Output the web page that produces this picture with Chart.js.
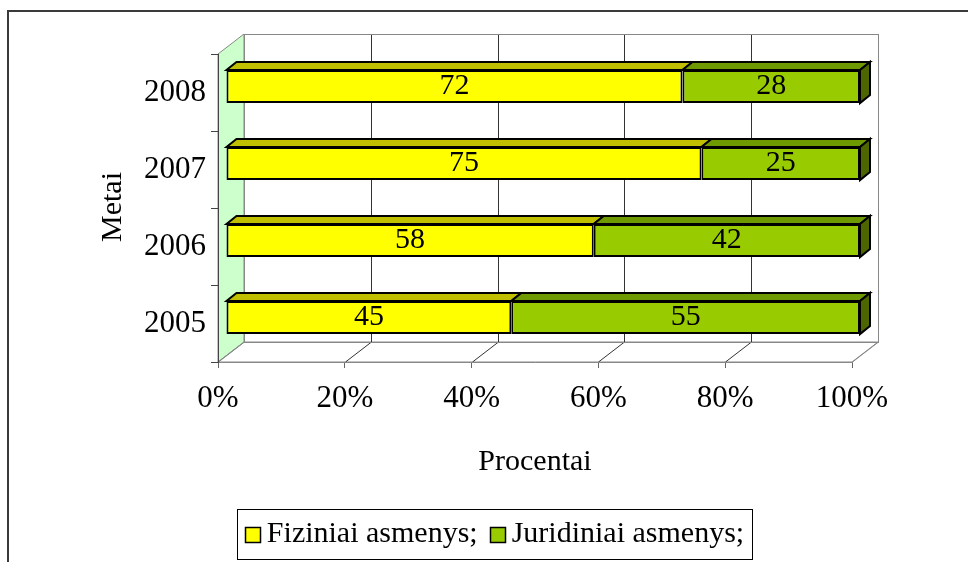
<!DOCTYPE html>
<html>
<head>
<meta charset="utf-8">
<script src="https://cdn.jsdelivr.net/npm/chart.js@4/dist/chart.umd.min.js"></script>
<style>
  html, body { margin: 0; padding: 0; background: #fff; overflow: hidden; }
  canvas { display: block; }
</style>
</head>
<body>
<canvas id="c" width="968" height="562"></canvas>
<script>
// Data
const years = ['2005', '2006', '2007', '2008'];
const fiziniai = [45, 58, 75, 72];
const juridiniai = [55, 42, 25, 28];
const seriesNames = ['Fiziniai asmenys;', 'Juridiniai asmenys;'];
const percentTicks = [0, 20, 40, 60, 80, 100];
const tickLabels = ['0%', '20%', '40%', '60%', '80%', '100%'];
const xTitle = 'Procentai';
const yTitle = 'Metai';

// Look
const SERIF = "'Liberation Serif', 'Times New Roman', Times, serif";
const WALL = { x: 26, y: -20 };      // depth of the back wall
const BAR_SHIFT = { x: 8, y: -6 };   // bars sit a little inside the box
const BAR_DEPTH = { x: 10, y: -8 };  // thickness of each 3D bar
const faceColors = [
  { front: '#FFFF00', top: '#C0C000', side: '#9A9A00' },
  { front: '#99CC00', top: '#6F9900', side: '#4D6600' }
];

function poly(ctx, pts) {
  ctx.beginPath();
  ctx.moveTo(pts[0][0], pts[0][1]);
  for (let i = 1; i < pts.length; i++) ctx.lineTo(pts[i][0], pts[i][1]);
  ctx.closePath();
}

// Outer frame, back wall, side wall and floor of the 3D box
const box3d = {
  id: 'box3d',
  beforeDraw(chart) {
    const { ctx, chartArea: a, scales: { x } } = chart;
    const dx = WALL.x, dy = WALL.y;
    ctx.save();
    ctx.fillStyle = '#fff';
    ctx.fillRect(0, 0, chart.width, chart.height);
    ctx.strokeStyle = '#3a3a3a';
    ctx.lineWidth = 2;
    ctx.strokeRect(8, 11, 1200, 1200);

    ctx.lineWidth = 1;
    // side wall
    poly(ctx, [[a.left, a.top], [a.left + dx, a.top + dy], [a.left + dx, a.bottom + dy], [a.left, a.bottom]]);
    ctx.fillStyle = '#CCFFCC';
    ctx.fill();
    ctx.strokeStyle = '#888';
    ctx.stroke();
    // back wall
    const bl = x.getPixelForValue(0) + dx, br = x.getPixelForValue(100) + dx;
    ctx.fillStyle = '#fff';
    ctx.fillRect(bl, a.top + dy, br - bl, a.bottom - a.top);
    // floor
    poly(ctx, [[a.left, a.bottom], [a.left + dx, a.bottom + dy], [a.right + dx, a.bottom + dy], [a.right, a.bottom]]);
    ctx.fillStyle = '#fff';
    ctx.fill();
    ctx.strokeStyle = '#888';
    ctx.stroke();
    // grid lines on back wall and floor
    percentTicks.forEach((v, i) => {
      const px = Math.round(x.getPixelForValue(v)) + 0.5;
      const inner = i > 0 && i < percentTicks.length - 1;
      ctx.strokeStyle = inner ? '#333' : '#888';
      ctx.beginPath();
      ctx.moveTo(px + dx, a.top + dy);
      ctx.lineTo(px + dx, a.bottom + dy);
      ctx.stroke();
      ctx.beginPath();
      ctx.moveTo(px + dx, a.bottom + dy);
      ctx.lineTo(px, a.bottom);
      ctx.stroke();
    });
    // back wall outline
    ctx.strokeStyle = '#888';
    ctx.strokeRect(Math.round(bl) + 0.5, Math.round(a.top + dy) + 0.5, Math.round(br - bl), Math.round(a.bottom - a.top));
    ctx.restore();
  },
  beforeDatasetsDraw(chart) {
    chart.ctx.save();
    chart.ctx.translate(BAR_SHIFT.x, BAR_SHIFT.y);
  },
  afterDatasetsDraw(chart) {
    const ctx = chart.ctx;
    const lastIdx = chart.data.datasets.length - 1;
    ctx.lineWidth = 2;
    ctx.strokeStyle = '#000';
    ctx.lineJoin = 'miter';
    chart.data.datasets.forEach((ds, di) => {
      const meta = chart.getDatasetMeta(di);
      meta.data.forEach(bar => {
        const { x, y, base, height } = bar.getProps(['x', 'y', 'base', 'height'], true);
        const t = y - height / 2, b = y + height / 2;
        // top face
        poly(ctx, [[base, t], [x, t], [x + BAR_DEPTH.x, t + BAR_DEPTH.y], [base + BAR_DEPTH.x, t + BAR_DEPTH.y]]);
        ctx.fillStyle = faceColors[di].top;
        ctx.fill();
        ctx.stroke();
        // right end face
        if (di === lastIdx) {
          poly(ctx, [[x, t], [x + BAR_DEPTH.x, t + BAR_DEPTH.y], [x + BAR_DEPTH.x, b + BAR_DEPTH.y], [x, b]]);
          ctx.fillStyle = faceColors[di].side;
          ctx.fill();
          ctx.stroke();
        }
      });
    });
    // value labels on front faces
    ctx.fillStyle = '#000';
    ctx.font = '30px ' + SERIF;
    ctx.textAlign = 'center';
    ctx.textBaseline = 'middle';
    chart.data.datasets.forEach((ds, di) => {
      chart.getDatasetMeta(di).data.forEach((bar, i) => {
        const { x, y, base } = bar.getProps(['x', 'y', 'base'], true);
        ctx.fillText(String(ds.data[i]), (x + base) / 2, y);
      });
    });
    ctx.restore();
  },
  afterDraw(chart) {
    const ctx = chart.ctx;
    ctx.save();
    // vertical axis title
    ctx.fillStyle = '#000';
    ctx.font = '30px ' + SERIF;
    ctx.textAlign = 'center';
    ctx.textBaseline = 'middle';
    ctx.translate(113, 207);
    ctx.rotate(-Math.PI / 2);
    ctx.fillText(yTitle, 0, 0);
    ctx.restore();

    // legend
    ctx.save();
    ctx.font = '30px ' + SERIF;
    const sq = 15, gapText = 7, gapItem = 12;
    const widths = chart.data.datasets.map(d => ctx.measureText(d.label).width);
    let total = 0;
    widths.forEach((w, i) => { total += sq + gapText + w + (i < widths.length - 1 ? gapItem : 0); });
    const boxL = 237, boxR = 752, boxT = 509, boxB = 559;
    const cy = (boxT + boxB) / 2 + 0.5;
    ctx.fillStyle = '#fff';
    ctx.fillRect(boxL, boxT, boxR - boxL, boxB - boxT);
    ctx.strokeStyle = '#000';
    ctx.lineWidth = 1;
    ctx.strokeRect(boxL + 0.5, boxT + 0.5, boxR - boxL, boxB - boxT);
    let cx = (boxL + boxR) / 2 - total / 2;
    ctx.textAlign = 'left';
    ctx.textBaseline = 'middle';
    chart.data.datasets.forEach((d, i) => {
      ctx.fillStyle = d.backgroundColor;
      ctx.fillRect(Math.round(cx) + 0.5, Math.round(cy - sq / 2) + 0.5, sq, sq);
      ctx.strokeStyle = '#000';
      ctx.lineWidth = 1.5;
      ctx.strokeRect(Math.round(cx) + 0.5, Math.round(cy - sq / 2) + 0.5, sq, sq);
      cx += sq + gapText;
      ctx.fillStyle = '#000';
      ctx.fillText(d.label, cx, cy);
      cx += widths[i] + gapItem;
    });
    ctx.restore();
  }
};

const axisFont = { family: SERIF, size: 31 };

new Chart(document.getElementById('c'), {
  type: 'bar',
  data: {
    labels: years,
    datasets: [
      { label: seriesNames[0], data: fiziniai, backgroundColor: faceColors[0].front },
      { label: seriesNames[1], data: juridiniai, backgroundColor: faceColors[1].front }
    ]
  },
  options: {
    indexAxis: 'y',
    responsive: false,
    animation: false,
    devicePixelRatio: 1,
    layout: { padding: { left: 0, top: 54, right: 116, bottom: 82 } },
    datasets: {
      bar: {
        barPercentage: 0.43,
        categoryPercentage: 1,
        borderWidth: 2,
        borderColor: '#000',
        borderSkipped: false,
        clip: false
      }
    },
    plugins: {
      legend: { display: false },
      tooltip: { enabled: false }
    },
    scales: {
      x: {
        stacked: true,
        min: 0,
        max: 100,
        afterFit(s) { s.height = 118; },
        afterBuildTicks(s) { s.ticks = percentTicks.map(v => ({ value: v })); },
        ticks: {
          callback: (v, i) => tickLabels[i],
          font: axisFont,
          color: '#000',
          padding: 12,
          maxRotation: 0,
          autoSkip: false
        },
        grid: { drawOnChartArea: false, drawTicks: true, tickLength: 6, color: '#666', offset: false },
        border: { display: true, color: '#888', width: 1 },
        title: { display: true, text: xTitle, font: { family: SERIF, size: 30 }, color: '#000', padding: 0 }
      },
      y: {
        stacked: true,
        reverse: true,
        afterFit(s) { s.width = 218; },
        ticks: { font: axisFont, color: '#000', padding: 5 },
        grid: { drawOnChartArea: false, drawTicks: true, tickLength: 7, color: '#444' },
        border: { display: true, color: '#444', width: 1 }
      }
    }
  },
  plugins: [box3d]
});
</script>
</body>
</html>
